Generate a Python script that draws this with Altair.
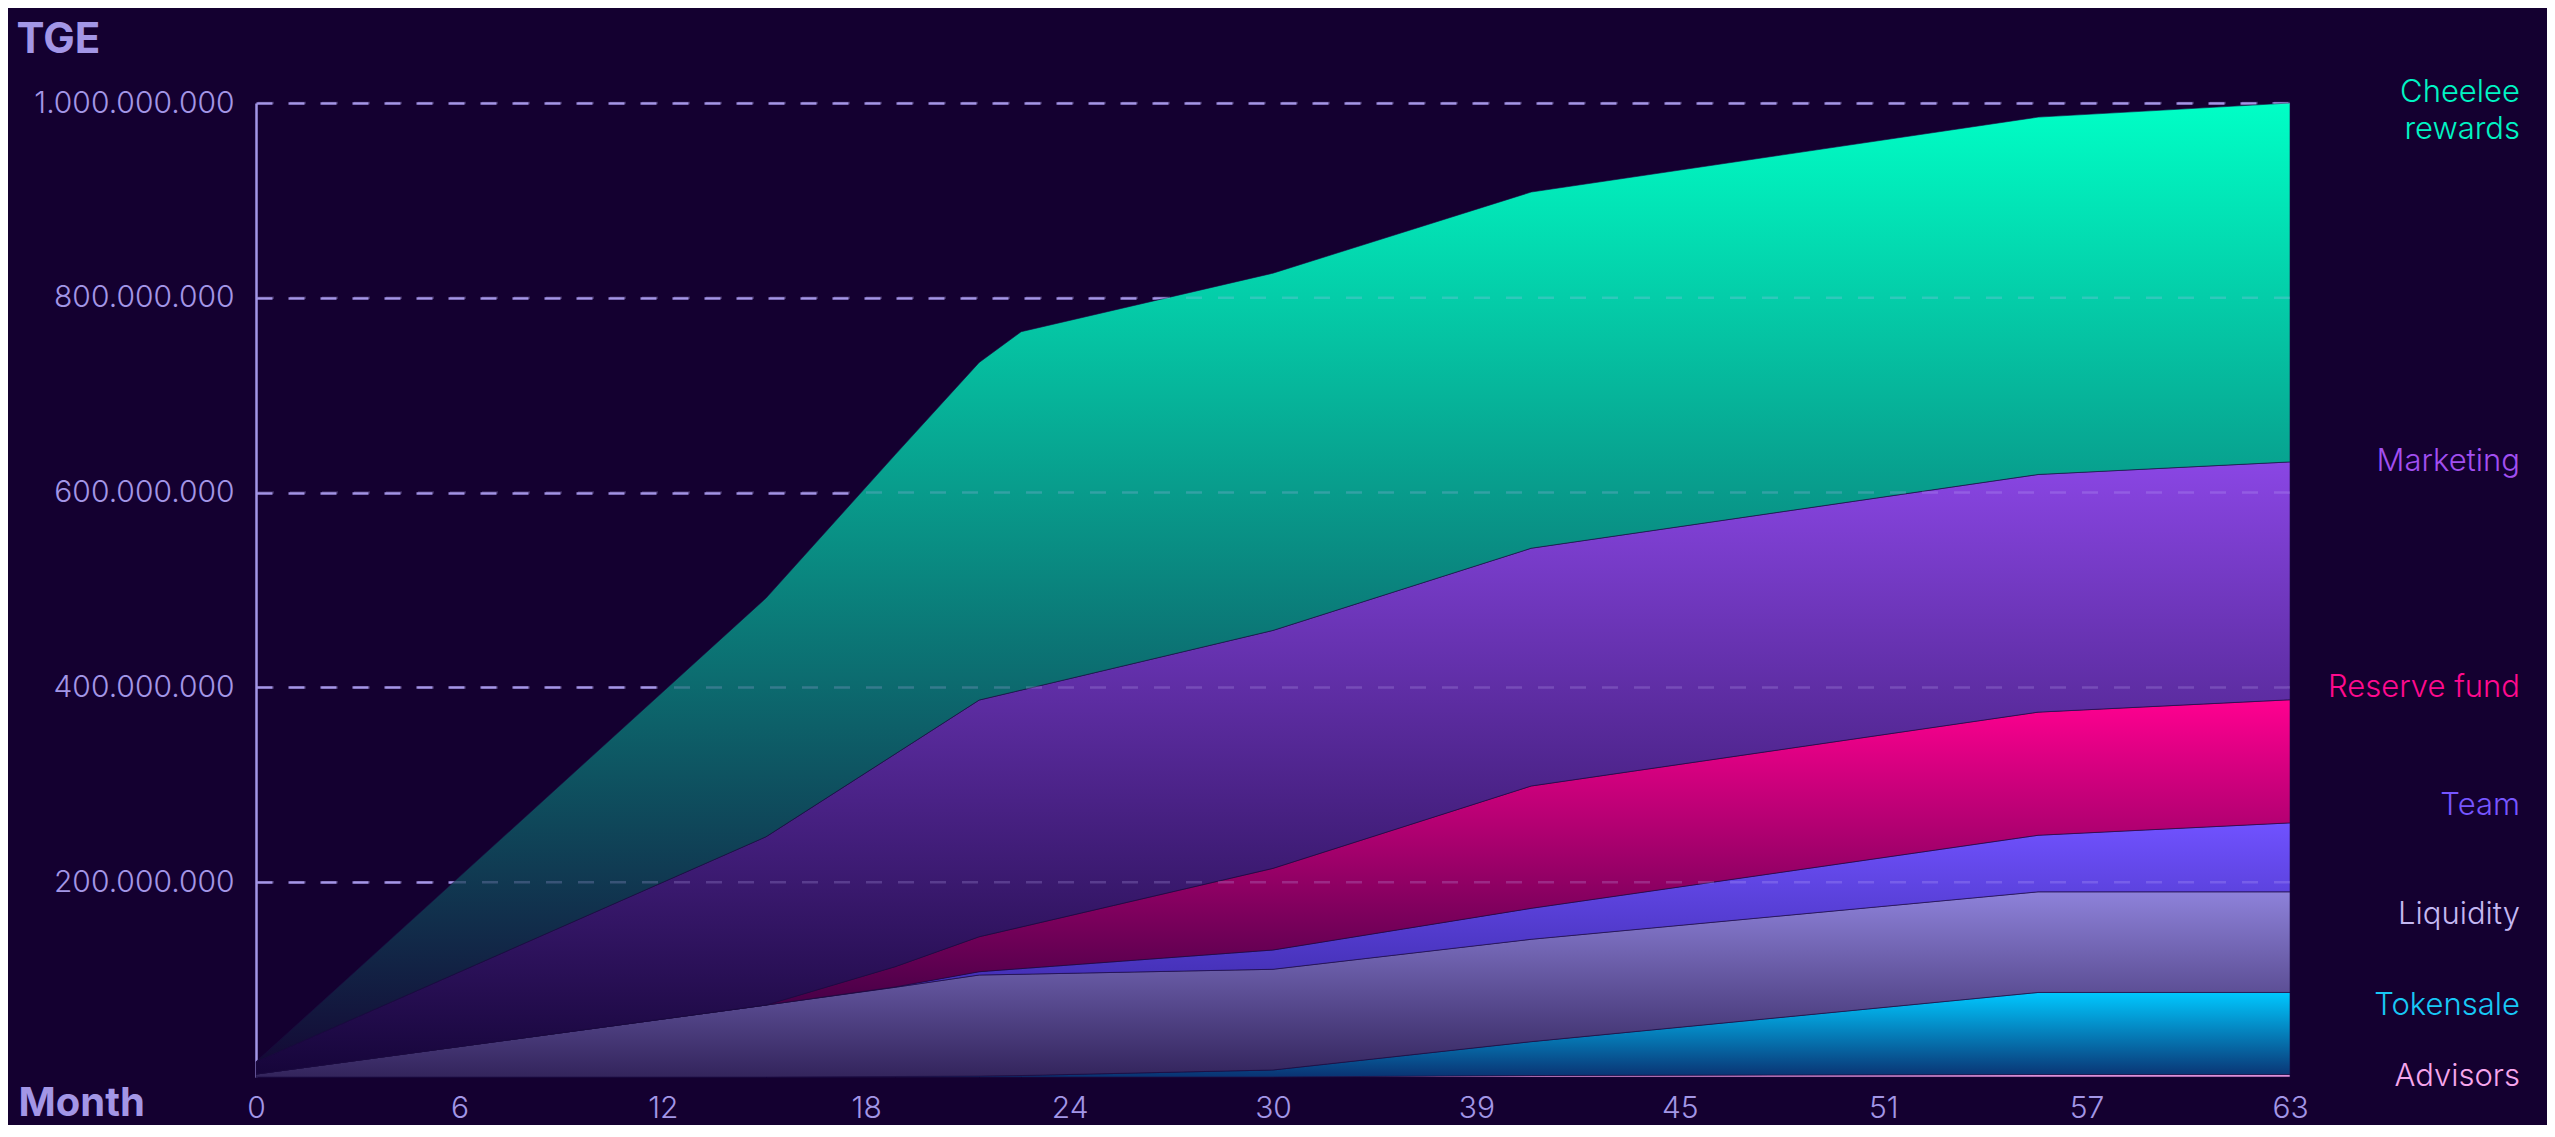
import altair as alt
import pandas as pd

# ---- data (millions of tokens) ----
months = [0, 15.8, 19.8, 22.4, 23.7, 31.5, 39.5, 55.2, 63]
series_names = ["Advisors", "Tokensale", "Liquidity", "Team", "Reserve fund", "Marketing", "Cheelee rewards"]
advisors  = [0, 0, 0, 0, 0, 0, 1.5, 2.5, 2.5]
tokensale = [0, 0, 0.5, 1, 1.5, 7.2, 34.8, 84.3, 84.3]
liquidity = [3, 73.9, 91.6, 103.7, 104, 103.4, 105.1, 103.3, 103.3]
team      = [0, 0, 0.4, 3.4, 5.8, 19.8, 31.8, 58.1, 70.8]
reserve   = [0, 0, 20.8, 35.9, 42.7, 83.8, 125.6, 126.4, 126.4]
marketing = [12.7, 172.8, 218.4, 243, 243.2, 244.3, 244.1, 244, 244.2]
cheelee   = [0, 245.1, 307.3, 346.6, 368, 366.8, 365.7, 366.9, 368.5]

x_tick_labels = ["0", "6", "12", "18", "24", "30", "39", "45", "51", "57", "63"]
y_tick_values = [200e6, 400e6, 600e6, 800e6, 1000e6]
y_tick_labels = ["200.000.000", "400.000.000", "600.000.000", "800.000.000", "1.000.000.000"]

label_texts = ["Advisors", "Tokensale", "Liquidity", "Team", "Reserve fund", "Marketing", "Cheelee\nrewards"]
label_y = [0, 73, 166, 278, 399, 631, 1010]
label_colors = ["#f6a6ec", "#18c8f6", "#c4b8f2", "#7656ff", "#ff0a8e", "#a24ff0", "#00f5c4"]

gradients = {
    "Advisors": ("#f3a3ea", "#e890dd"),
    "Tokensale": ("#00c8ff", "#0a3272"),
    "Liquidity": ("#8e82da", "#33245c"),
    "Team": ("#7052ff", "#2a1c8a"),
    "Reserve fund": ("#ff0090", "#1c0036"),
    "Marketing": ("#8a46e4", "#16053a"),
    "Cheelee rewards": ("#00ffc6", "#140a36"),
}

BG = "#140030"
AXIS = "#a396e6"
FONT = "Inter"

# ---- build stacked table ----
values = [advisors, tokensale, liquidity, team, reserve, marketing, cheelee]
rows = []
base = [0.0] * len(months)
for name, vals in zip(series_names, values):
    for i, m in enumerate(months):
        lo = base[i]
        hi = lo + vals[i]
        rows.append({"series": name, "month": m, "y0": lo * 1e6, "y1": hi * 1e6})
    base = [b + v for b, v in zip(base, vals)]
df = pd.DataFrame(rows)

x_tick_values = [i * 63 / (len(x_tick_labels) - 1) for i in range(len(x_tick_labels))]
x_expr = " : ".join(
    f"abs(datum.value - {v}) < 0.01 ? '{l}'" for v, l in zip(x_tick_values, x_tick_labels)
) + " : ''"
y_expr = " : ".join(
    f"datum.value == {int(v)} ? '{l}'" for v, l in zip(y_tick_values, y_tick_labels)
) + " : ''"

x_scale = alt.Scale(domain=[0, 63], nice=False, zero=False)
y_scale = alt.Scale(domain=[0, 1e9], nice=False)

x_axis = alt.Axis(
    values=x_tick_values, labelExpr=x_expr, grid=False, domain=False, ticks=False,
    labelFont=FONT, labelFontSize=30, labelFontWeight=300, labelColor=AXIS,
    labelPadding=40, labelBaseline="alphabetic", labelFlush=False, labelLimit=0,
    title="Month", titleFont=FONT, titleFontSize=40, titleFontWeight="bold",
    titleColor=AXIS, titleAngle=0, titleAlign="left", titleBaseline="bottom",
    titleX=-238, titleY=46,
)
y_axis = alt.Axis(
    values=y_tick_values, labelExpr=y_expr, grid=True, gridColor="#9c8ce0",
    gridDash=[16, 16], gridWidth=2.5, domain=True, domainColor=AXIS, domainWidth=2.5,
    ticks=False, labelFont=FONT, labelFontSize=30, labelFontWeight=300,
    labelColor=AXIS, labelPadding=22, labelBaseline="middle", labelLimit=0,
    title="TGE", titleFont=FONT, titleFontSize=42, titleFontWeight="bold",
    titleColor=AXIS, titleAngle=0, titleAlign="left", titleBaseline="alphabetic",
    titleX=-240, titleY=-51,
)

layers = []
for name in series_names:
    top, bot = gradients[name]
    grad = alt.Gradient(
        gradient="linear",
        stops=[alt.GradientStop(color=top, offset=0), alt.GradientStop(color=bot, offset=1)],
        x1=1, x2=1, y1=0, y2=1,
    )
    layer = alt.Chart(df).transform_filter(alt.datum.series == name).mark_area(
        color=grad, stroke="#1a0a40", strokeWidth=1, strokeOpacity=0.6, interpolate="linear"
    ).encode(
        x=alt.X("month:Q", scale=x_scale, axis=x_axis),
        y=alt.Y("y1:Q", scale=y_scale, axis=y_axis),
        y2="y0:Q",
    )
    layers.append(layer)

# faint dashed grid over the areas
grid_df = pd.DataFrame({"y1": y_tick_values})
grid_top = alt.Chart(grid_df).mark_rule(
    color="#c8bcff", strokeDash=[16, 16], strokeWidth=2.5, opacity=0.22
).encode(y=alt.Y("y1:Q", scale=y_scale, axis=y_axis))

# series labels on the right
lab_df = pd.DataFrame({
    "series": series_names,
    "text": label_texts,
    "month": [months[-1]] * len(series_names),
    "y1": [v * 1e6 for v in label_y],
})
labels = alt.Chart(lab_df).mark_text(
    align="right", baseline="middle", dx=230, font=FONT, fontSize=31,
    fontWeight=300, lineBreak="\n", lineHeight=37,
).encode(
    x=alt.X("month:Q", scale=x_scale, axis=x_axis),
    y=alt.Y("y1:Q", scale=y_scale, axis=y_axis),
    text="text:N",
    color=alt.Color("series:N", scale=alt.Scale(domain=series_names, range=label_colors), legend=None),
)

chart = alt.layer(*layers, grid_top, labels).properties(
    width=2034, height=974,
    autosize=alt.AutoSizeParams(type="none"),
    padding={"left": 248, "top": 95, "right": 257, "bottom": 48},
    background=BG,
).configure_view(stroke=None)

chart.save("out.html", embed_options={"renderer": "svg", "actions": False})
